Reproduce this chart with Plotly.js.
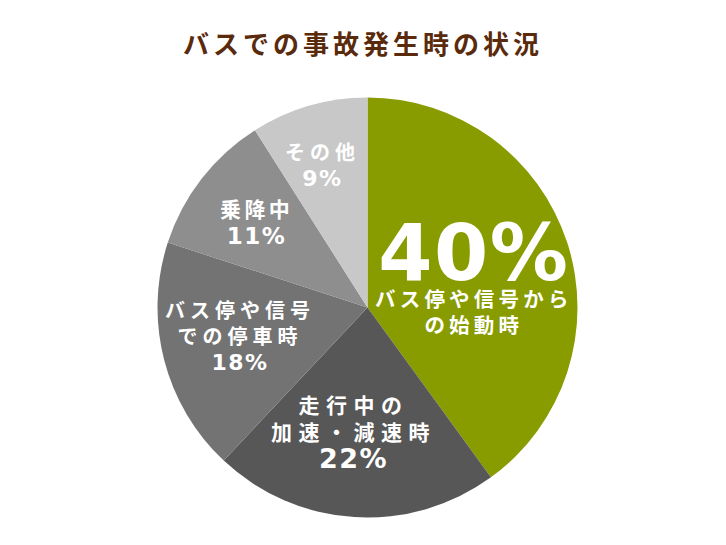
<!DOCTYPE html>
<html>
<head>
<meta charset="utf-8">
<script src="https://cdn.plot.ly/plotly-3.0.1.min.js"></script>
<style>
  body { margin: 0; background: #fff; }
  #chart { width: 726px; height: 545px; }
  .gtitle { letter-spacing: 4px; }
</style>
</head>
<body>
<div id="chart"></div>
<script>
// slices, clockwise from 12 o'clock
var labels = ['バス停や信号からの始動時', '走行中の加速・減速時', 'バス停や信号での停車時', '乗降中', 'その他'];
var values = [40, 22, 18, 11, 9];
var labelLines = [
  ['バス停や信号から', 'の始動時'],
  ['走行中の', '加速・減速時'],
  ['バス停や信号', 'での停車時'],
  ['乗降中'],
  ['その他']
];
var colors = ['#889c00', '#575757', '#737373', '#8e8e8e', '#c8c8c8'];

// label block placement in page pixels: x centre, y of the first glyph row,
// base font size, letter spacing, percent font size, percent on top or not
var labelSpots = [
  { x: 474, y: 280, size: 20.5, ls: 4.2, pct: 78, pctFirst: true },
  { x: 353, y: 405, size: 21, ls: 6.5, pct: 27, pctFirst: false },
  { x: 240, y: 310, size: 20, ls: 5, pct: 22, pctFirst: false },
  { x: 256, y: 208, size: 21, ls: 3.4, pct: 23, pctFirst: false },
  { x: 322, y: 152, size: 20, ls: 5, pct: 22, pctFirst: false }
];

var W = 726, H = 545;
var jpFont = '"Noto Sans CJK JP", "Noto Sans", sans-serif';

function span(t, style) {
  return '<span style="' + style + '">' + t + '</span>';
}

function labelAnnotation(i) {
  var s = labelSpots[i];
  var pctText = span(values[i] + '%', 'font-family:DejaVu Sans;font-size:' + s.pct + 'px;letter-spacing:1.5px');
  var rows = labelLines[i].map(function (t) { return span(t, 'letter-spacing:' + s.ls + 'px'); });
  if (s.pctFirst) rows.unshift(pctText); else rows.push(pctText);

  // centre of the text box, worked out from the first row position
  var step = 1.3 * s.size;
  var b1, boxTop;
  if (s.pctFirst) {
    b1 = s.y;                       // baseline of the big percent
    boxTop = b1 - 0.928 * s.pct;
  } else {
    b1 = s.y + 0.39 * s.size;       // baseline of first Japanese row
    boxTop = b1 - 1.16 * s.size;
  }
  var bLast = b1 + (rows.length - 1) * step;
  var boxBottom = bLast + Math.max(0.288 * s.size, s.pctFirst ? 0 : 0.236 * s.pct);
  var cy = (boxTop + boxBottom) / 2;

  return {
    text: rows.join('<br>'),
    xref: 'paper', yref: 'paper',
    x: s.x / W, y: 1 - cy / H,
    xanchor: 'center', yanchor: 'middle', align: 'center',
    showarrow: false,
    font: { family: jpFont, size: s.size, color: '#ffffff', weight: 700 }
  };
}

var annotations = [];
for (var i = 0; i < values.length; i++) annotations.push(labelAnnotation(i));

var trace = {
  type: 'pie',
  labels: labels,
  values: values,
  textinfo: 'none',
  sort: false,
  direction: 'clockwise',
  rotation: 0,
  hoverinfo: 'label+percent',
  marker: { colors: colors, line: { width: 0 } },
  domain: { x: [0.2169, 0.7955], y: [0.0505, 0.8211] }
};

var layout = {
  width: W,
  height: H,
  margin: { l: 0, r: 0, t: 0, b: 0 },
  paper_bgcolor: '#ffffff',
  showlegend: false,
  annotations: annotations,
  title: {
    text: 'バスでの事故発生時の状況',
    x: 0.5,
    xanchor: 'center',
    yref: 'container',
    y: 1 - 45 / H,
    yanchor: 'middle',
    font: { family: jpFont, size: 26, color: '#5a2a0c', weight: 700 }
  }
};

Plotly.newPlot('chart', [trace], layout, { displayModeBar: false });
</script>
</body>
</html>
